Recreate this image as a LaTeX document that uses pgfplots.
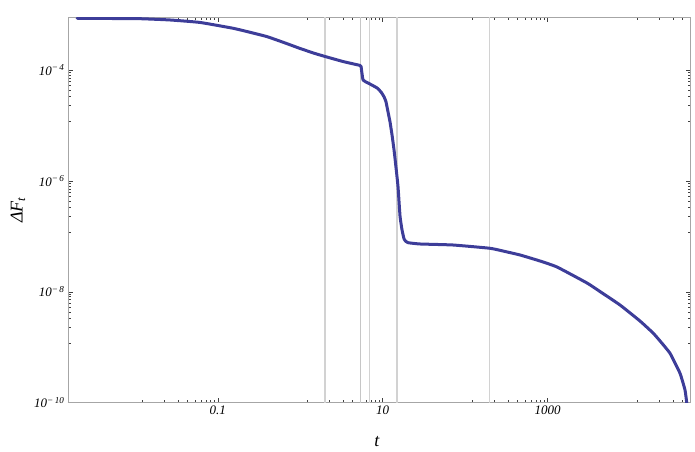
\documentclass[border=0pt]{standalone}
\usepackage{fontspec}
\setmainfont{Liberation Serif}
\usepackage{pgfplots}
\pgfplotsset{compat=1.18}
\definecolor{curve}{HTML}{3D3D99}
\definecolor{guide}{HTML}{D2D2D2}
\newcommand{\tp}[1]{10\textsuperscript{−\,#1}}

\begin{document}
\begin{tikzpicture}
\begin{loglogaxis}[
  scale only axis,
  width=622.7pt, height=385.4pt,
  xmin=0.00153, xmax=54100,
  ymin=1e-10, ymax=8.9e-4,
  xtick={0.1,10,1000},
  xticklabels={0.1,10,1000},
  ytick={1e-10,1e-8,1e-6,1e-4},
  yticklabels={\tp{10},\tp{8},\tp{6},\tp{4}},
  % minor ticks sit in the decade below each labelled tick only
  minor xtick={0.0120,0.0227,0.0330,0.0431,0.0528,0.0625,0.0719,0.0815,0.0908,
               1.20,2.27,3.30,4.31,5.28,6.25,7.19,8.15,9.08,
               120,227,330,431,528,625,719,815,908,
               12000,22700,33000,43100},
  minor ytick={1.20e-5,2.27e-5,3.30e-5,4.31e-5,5.28e-5,6.25e-5,7.19e-5,8.15e-5,9.08e-5,
               1.20e-7,2.27e-7,3.30e-7,4.31e-7,5.28e-7,6.25e-7,7.19e-7,8.15e-7,9.08e-7,
               1.20e-9,2.27e-9,3.30e-9,4.31e-9,5.28e-9,6.25e-9,7.19e-9,8.15e-9,9.08e-9},
  ticklabel style={font=\fontsize{13}{15}\selectfont\itshape},
  major tick length=5pt, minor tick length=2.7pt,
  tick style={black!75, line width=0.5pt},
  axis line style={gray!70, line width=0.8pt},
  xlabel={\itshape t},
  xlabel style={font=\fontsize{18}{20}\selectfont, at={(axis description cs:0.496,-0.101)}, anchor=center},
  ylabel={\itshape ΔF\textsubscript{t}},
  ylabel style={font=\fontsize{18}{20}\selectfont},
  ylabel shift=2pt,
]
% guide lines
\addplot[guide, line width=1.3pt] coordinates {(2.0,1e-11) (2.0,1e-2)};
\addplot[gray!45, line width=0.6pt] coordinates {(5.41,1e-11) (5.41,1e-2)};
\addplot[guide, line width=1.1pt] coordinates {(6.96,1e-11) (6.96,1e-2)};
\addplot[guide, line width=1.3pt] coordinates {(14.9,1e-11) (14.9,1e-2)};
\addplot[guide, line width=1.3pt] coordinates {(198,1e-11) (198,1e-2)};

\addplot[curve, line width=3pt, line join=round, line cap=round, smooth, tension=0.25] coordinates {
  (0.00197,8.56e-4) (0.00654,8.45e-4) (0.0121,8.38e-4) (0.0264,7.97e-4)
  (0.0610,7.19e-4) (0.153,5.65e-4) (0.246,4.78e-4) (0.396,3.99e-4)
  (0.654,3.07e-4) (0.995,2.44e-4) (1.51,1.98e-4) (2.00,1.75e-4)
  (3.30,1.42e-4) (5.31,1.206e-4) (5.46,1.156e-4) (5.77,6.60e-5)
  (6.63,5.83e-5) (8.53,4.74e-5) (9.6,3.95e-5) (10.4,3.25e-5) (10.96,2.65e-5)
  (11.59,1.75e-5) (12.26,1.15e-5) (12.96,6.73e-6) (13.71,3.61e-6)
  (14.50,1.71e-6) (15.33,7.76e-7) (16.21,2.3e-7) (17.14,1.30e-7)
  (18.13,8.96e-8) (19.16,8.07e-8) (20.26,7.68e-8) (28.3,7.28e-8)
  (71.1,6.98e-8) (200,6.09e-8) (304,5.33e-8) (462,4.61e-8)
  (807,3.59e-8) (1296,2.80e-8) (2995,1.44e-8) (4304,1.01e-8)
  (7521,5.78e-9) (13150,2.97e-9) (18900,1.81e-9) (22970,1.30e-9)
  (30370,7.78e-10) (40140,3.39e-10) (46150,1.69e-10) (48810,9.09e-11)
};
\end{loglogaxis}
\path (current axis.south west) ++(-68pt,-48.3pt) rectangle ++(695pt,451pt);
\end{tikzpicture}
\end{document}
